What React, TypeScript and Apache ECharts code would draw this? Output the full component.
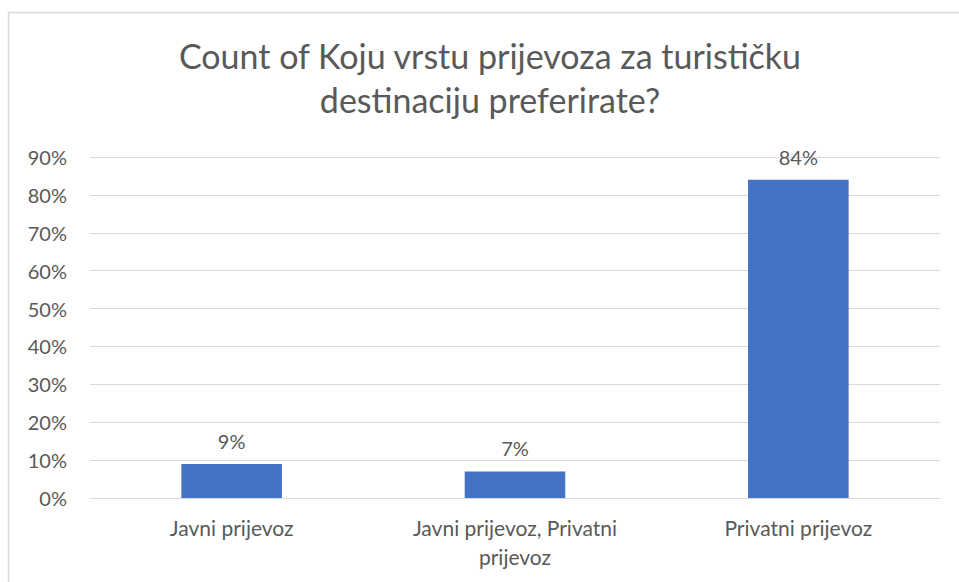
import React, { useEffect, useRef } from "react";
import * as echarts from "echarts";

const categories = ["Javni prijevoz", "Javni prijevoz, Privatni\nprijevoz", "Privatni prijevoz"];
const values = [9, 7, 84];
const yTicks = [0, 10, 20, 30, 40, 50, 60, 70, 80, 90];
const titleText = "Count of Koju vrstu prijevoza za turističku\ndestinaciju preferirate?";

const FONT = "Lato";
const TEXT = "#595959";

export default function App() {
  const ref = useRef<HTMLDivElement>(null);
  useEffect(() => {
    const chart = echarts.init(ref.current!, null, { renderer: "svg" });
    chart.setOption({
      animation: false,
      backgroundColor: "#ffffff",
      textStyle: { fontFamily: FONT },
      title: {
        text: titleText,
        left: 485,
        top: 28,
        textAlign: "center",
        textStyle: { fontFamily: FONT, fontSize: 34, fontWeight: "normal", color: TEXT, lineHeight: 44 },
      },
      graphic: [
        {
          type: "rect",
          shape: { x: 8.5, y: 12.5, width: 1200, height: 1200 },
          style: { fill: "none", stroke: "#d9d9d9", lineWidth: 1.5 },
          silent: true,
        },
      ],
      grid: { left: 90, right: 19, top: 157, bottom: 84, containLabel: false },
      xAxis: {
        type: "category",
        data: categories,
        axisLine: { show: true, lineStyle: { color: "#d9d9d9", width: 1 } },
        axisTick: { show: false },
        axisLabel: { color: TEXT, fontSize: 21, fontFamily: FONT, margin: 15, lineHeight: 29, interval: 0 },
      },
      yAxis: {
        type: "value",
        min: yTicks[0],
        max: yTicks[yTicks.length - 1],
        interval: 10,
        axisLine: { show: false },
        axisTick: { show: false },
        axisLabel: { color: TEXT, fontSize: 20, fontFamily: FONT, margin: 23, formatter: "{value}%" },
        splitLine: { lineStyle: { color: "#d9d9d9", width: 1 } },
      },
      series: [
        {
          type: "bar",
          data: values,
          barWidth: "35.5%",
          itemStyle: { color: "#4472c4" },
          label: {
            show: true,
            position: "top",
            distance: 13,
            formatter: "{c}%",
            color: TEXT,
            fontSize: 20,
            fontFamily: FONT,
          },
        },
      ],
    });
    return () => chart.dispose();
  }, []);
  return <div ref={ref} style={{ position: "absolute", left: 0, top: 0, width: 959, height: 582 }} />;
}
